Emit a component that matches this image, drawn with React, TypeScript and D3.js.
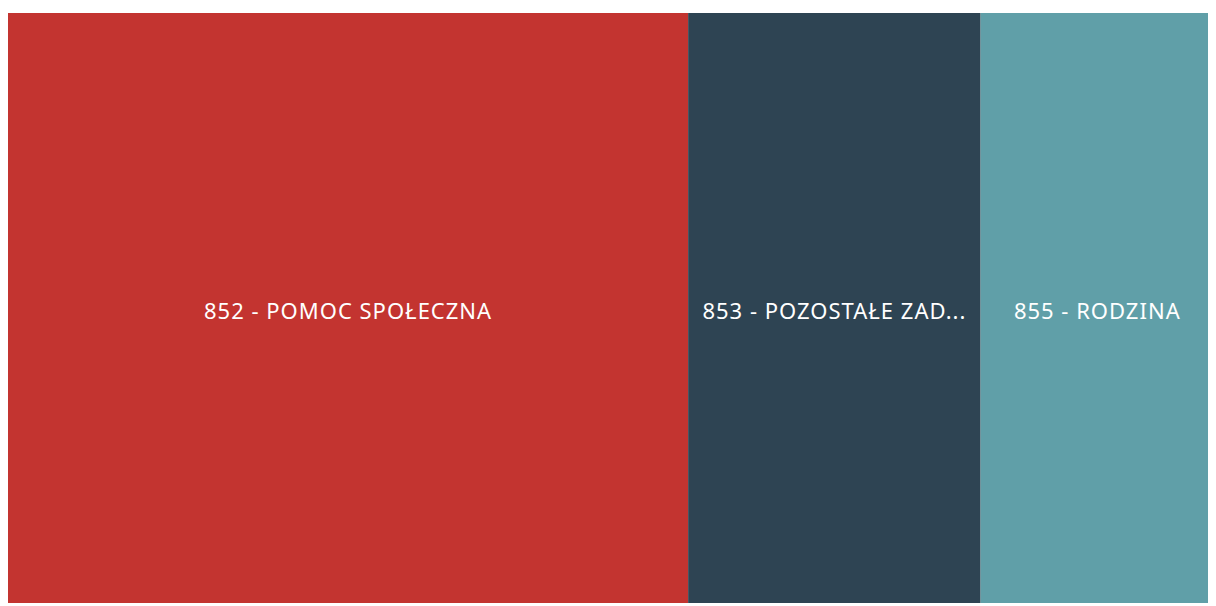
import React, { useRef, useEffect } from "react";
import * as d3 from "d3";

// categories of the budget treemap (values estimated from the strip widths)
const categories = [
  "852 - POMOC SPOŁECZNA",
  "853 - POZOSTAŁE ZADANIA W ZAKRESIE POLITYKI SPOŁECZNEJ",
  "855 - RODZINA",
];
const amounts = [6790000, 2920000, 2330000];
const colors = ["#c33430", "#2e4453", "#609fa8"];

const W = 1208;
const H = 598;

const App = () => {
  const ref = useRef<SVGSVGElement>(null);

  useEffect(() => {
    const svg = d3.select(ref.current);
    svg.selectAll("*").remove();

    const data = categories.map((name, i) => ({ name, value: amounts[i], color: colors[i] }));
    const root = d3
      .hierarchy<any>({ children: data })
      .sum((d: any) => d.value || 0);

    d3.treemap<any>()
      .tile(d3.treemapDice)
      .size([1206, 590])
      .paddingInner(0)(root);

    const g = svg.append("g").attr("transform", "translate(0,5)");

    const cells = g
      .selectAll("g.cell")
      .data(root.leaves())
      .join("g")
      .attr("class", "cell");

    cells
      .append("rect")
      .attr("x", (d: any) => d.x0)
      .attr("y", (d: any) => d.y0)
      .attr("width", (d: any) => d.x1 - d.x0)
      .attr("height", (d: any) => d.y1 - d.y0)
      .attr("fill", (d: any) => d.data.color);

    cells
      .append("text")
      .attr("x", (d: any) => (d.x0 + d.x1) / 2)
      .attr("y", (d: any) => (d.y0 + d.y1) / 2 + 5)
      .attr("text-anchor", "middle")
      .attr("dominant-baseline", "middle")
      .attr("fill", "#ffffff")
      .style("font-family", "'Noto Sans', 'Open Sans', sans-serif")
      .style("font-size", "22px")
      .style("letter-spacing", "1px")
      .text((d: any) => d.data.name)
      .each(function (d: any) {
        // shorten labels that do not fit inside the cell
        const el = this as SVGTextElement;
        const maxW = d.x1 - d.x0 - 24;
        let label = d.data.name;
        if (el.getComputedTextLength() <= maxW) return;
        while (label.length > 1) {
          label = label.slice(0, -1);
          el.textContent = label.trimEnd() + "...";
          if (el.getComputedTextLength() <= maxW) break;
        }
      });
  }, []);

  return (
    <svg ref={ref} width={W} height={H} style={{ display: "block" }} />
  );
};

export default App;
